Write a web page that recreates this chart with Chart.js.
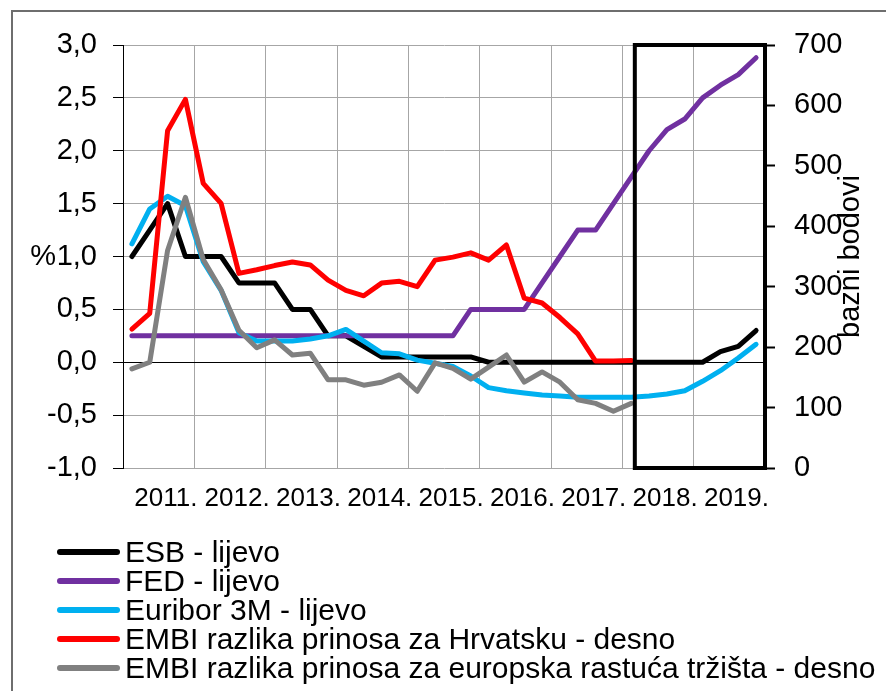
<!DOCTYPE html>
<html>
<head>
<meta charset="utf-8">
<script src="https://cdn.jsdelivr.net/npm/chart.js@4.4.1/dist/chart.umd.min.js"></script>
<style>
html,body{margin:0;padding:0;background:#fff;}
#wrap{position:relative;width:886px;height:691px;overflow:hidden;}
#c{position:absolute;left:0;top:0;}
#legend{position:absolute;left:57px;top:537px;font-family:"Liberation Sans",Arial,sans-serif;font-size:30px;color:#000;}
.item{display:flex;align-items:center;height:29px;line-height:29px;white-space:nowrap;}
.swatch{width:63px;height:6px;border-radius:3px;margin-right:5px;flex:none;}
</style>
</head>
<body>
<div id="wrap"><canvas id="c" width="886" height="691"></canvas><div id="legend"></div></div>
<script>
// ---- data (quarterly, 2011 Q1 .. 2019 Q4) ----
const years = ['2011.','2012.','2013.','2014.','2015.','2016.','2017.','2018.','2019.'];
const leftTicks = [-1.0,-0.5,0.0,0.5,1.0,1.5,2.0,2.5,3.0];
const rightTicks = [0,100,200,300,400,500,600,700];

const esb = [1.0,1.25,1.5,1.0,1.0,1.0,0.75,0.75,0.75,0.5,0.5,0.25,0.25,0.15,0.05,0.05,0.05,0.05,0.05,0.05,
             0,0,0,0,0,0,0,0,0,0,0,0,0,0.1,0.15,0.3];
const fed = [0.25,0.25,0.25,0.25,0.25,0.25,0.25,0.25,0.25,0.25,0.25,0.25,0.25,0.25,0.25,0.25,0.25,0.25,0.25,
             0.5,0.5,0.5,0.5,0.75,1.0,1.25,1.25,1.5,1.75,2.0,2.2,2.3,2.5,2.62,2.72,2.88];
const euribor = [1.12,1.45,1.57,1.48,0.95,0.68,0.28,0.2,0.2,0.2,0.22,0.25,0.31,0.2,0.09,0.08,0.02,-0.01,-0.04,-0.13,
                 -0.24,-0.27,-0.29,-0.31,-0.32,-0.33,-0.33,-0.33,-0.33,-0.32,-0.3,-0.27,-0.18,-0.08,0.04,0.17];
const embiHr = [230,256,558,610,471,438,322,328,335,341,336,311,294,285,306,309,300,344,349,356,344,369,281,273,249,222,177,177,178];
const embiEu = [164,175,360,448,345,295,228,199,212,187,190,146,146,137,142,154,127,174,165,147,167,187,142,159,142,113,107,94,107];

const seriesLabels = ['ESB - lijevo','FED - lijevo','Euribor 3M - lijevo',
  'EMBI razlika prinosa za Hrvatsku - desno','EMBI razlika prinosa za europska rastuća tržišta - desno'];
const seriesColors = ['#000000','#7030A0','#00B0F0','#FF0000','#808080'];
const leftTitle = '%';
const rightTitle = 'bazni bodovi';
const boxFrom = 28.7;   // highlighted period (quarter index)
const boxTo = 36;
const labelShift = 0.4; // year labels sit slightly right of the year centre

const FONT = "'Liberation Sans', Arial, sans-serif";
const pts = arr => arr.map((v, i) => ({x: i + 0.5, y: v}));
const fmt = v => v.toFixed(1).replace('.', ',');

const borderPlugin = {
  id: 'outerBorder',
  beforeDraw(chart) {
    const c = chart.ctx; c.save();
    c.strokeStyle = '#6e6e6e'; c.lineWidth = 2;
    c.strokeRect(12, 11, 2000, 2000);
    c.restore();
  }
};
const boxPlugin = {
  id: 'box',
  afterDatasetsDraw(chart) {
    const c = chart.ctx, xs = chart.scales.x, a = chart.chartArea;
    const x1 = xs.getPixelForValue(boxFrom), x2 = xs.getPixelForValue(boxTo);
    c.save(); c.strokeStyle = '#000'; c.lineWidth = 4;
    c.strokeRect(x1, a.top, x2 - x1, a.bottom - a.top);
    c.restore();
  }
};
const titlePlugin = {
  id: 'titles',
  afterDraw(chart) {
    const c = chart.ctx, a = chart.chartArea;
    c.save(); c.font = '29px ' + FONT; c.fillStyle = '#000';
    c.textAlign = 'right'; c.textBaseline = 'middle';
    c.fillText(leftTitle, 56, chart.scales.y.getPixelForValue(1.0));
    c.translate(851, (a.top + a.bottom) / 2);
    c.rotate(-Math.PI / 2);
    c.textAlign = 'center';
    c.fillText(rightTitle, 0, 0);
    c.restore();
  }
};

const axisIds = ['y','y','y','y2','y2'];
const dataArr = [esb, fed, euribor, embiHr, embiEu];
const orders = [5,4,3,2,1];
const datasets = dataArr.map((d, k) => ({
  label: seriesLabels[k], data: pts(d), borderColor: seriesColors[k], backgroundColor: seriesColors[k],
  yAxisID: axisIds[k], order: orders[k]
}));

const chart = new Chart(document.getElementById('c'), {
  type: 'line',
  data: {datasets},
  options: {
    responsive: false, animation: false, devicePixelRatio: 1,
    layout: {padding: {left: 0, right: 0, top: 45, bottom: 173}},
    elements: {
      point: {radius: 0},
      line: {borderWidth: 5, borderJoinStyle: 'round', borderCapStyle: 'round', tension: 0}
    },
    plugins: {legend: {display: false}, tooltip: {enabled: false}},
    scales: {
      x: {
        type: 'linear', min: 0, max: 36,
        afterBuildTicks: s => {
          const t = [];
          for (let k = 0; k <= 9; k++) t.push({value: 4 * k, grid: true});
          for (let k = 0; k < 9; k++) t.push({value: 4 * k + 2 + labelShift, year: k});
          t.sort((a, b) => a.value - b.value);
          s.ticks = t;
        },
        ticks: {
          autoSkip: false, maxRotation: 0, padding: 15, color: '#000',
          font: {family: FONT, size: 26},
          callback: function (v, i, ticks) { return ticks[i].year !== undefined ? years[ticks[i].year] : ''; }
        },
        grid: {
          color: c => (c.tick && c.tick.grid ? '#a6a6a6' : 'rgba(0,0,0,0)'),
          lineWidth: 1, drawTicks: false
        },
        border: {display: false},
        afterFit: s => { s.height = 50; }
      },
      y: {
        position: 'left', min: -1, max: 3,
        afterBuildTicks: s => { s.ticks = leftTicks.map(v => ({value: v})); },
        ticks: {padding: 16, color: '#000', font: {family: FONT, size: 29}, callback: v => fmt(v)},
        grid: {
          color: c => (c.tick && c.tick.value === 0 ? '#000' : '#a6a6a6'),
          tickColor: '#000', tickLength: 10, lineWidth: 1
        },
        border: {color: '#000', width: 1},
        afterFit: s => { s.width = 123; }
      },
      y2: {
        position: 'right', min: 0, max: 700,
        afterBuildTicks: s => { s.ticks = rightTicks.map(v => ({value: v})); },
        ticks: {padding: 19, color: '#000', font: {family: FONT, size: 29}},
        grid: {drawOnChartArea: false, tickColor: '#000', tickLength: 10, tickWidth: 2},
        border: {display: false},
        afterFit: s => { s.width = 121; }
      }
    }
  },
  plugins: [borderPlugin, boxPlugin, titlePlugin]
});

// HTML legend built from the datasets
const lg = document.getElementById('legend');
chart.data.datasets.forEach(ds => {
  const row = document.createElement('div'); row.className = 'item';
  const sw = document.createElement('span'); sw.className = 'swatch'; sw.style.background = ds.borderColor;
  const tx = document.createElement('span'); tx.textContent = ds.label;
  row.appendChild(sw); row.appendChild(tx); lg.appendChild(row);
});
</script>
</body>
</html>
